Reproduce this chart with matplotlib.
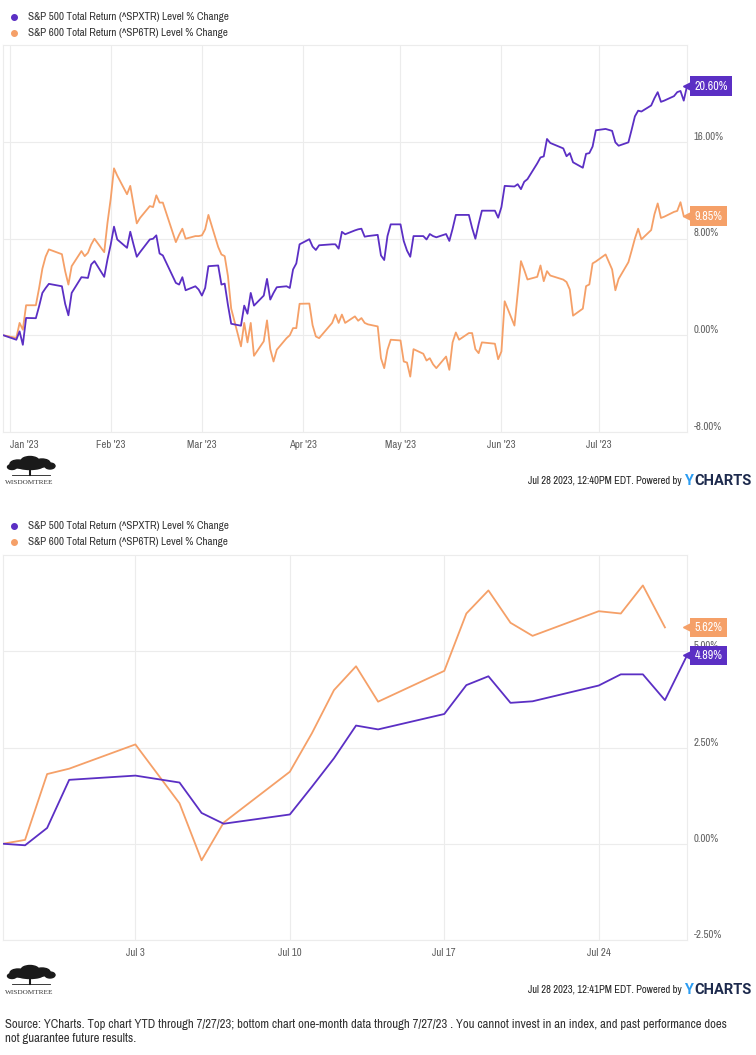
import matplotlib
matplotlib.use('Agg')
import matplotlib.pyplot as plt
import matplotlib.dates as mdates
from matplotlib import font_manager
from matplotlib.patches import Ellipse
from matplotlib.ticker import FixedLocator, FuncFormatter
import pandas as pd

PURPLE = '#5b2fc4'
ORANGE = '#f5a068'
GRID = '#ececec'
W, H = 756, 1055

# prefer a condensed face (the original uses one); fall back to Roboto, smaller
fonts = font_manager.fontManager.ttflist
narrow = sorted({f.name for f in fonts if 'Condensed' in f.name or 'Narrow' in f.name})
if narrow:
    plt.rcParams['font.family'] = [narrow[0], 'DejaVu Sans']
    SCALE = 1.0
else:
    plt.rcParams['font.family'] = ['Roboto', 'DejaVu Sans']
    SCALE = 0.86

# ---- data -------------------------------------------------------------
series_names = ['S&P 500 Total Return (^SPXTR) Level % Change',
                'S&P 600 Total Return (^SP6TR) Level % Change']
market_holidays = ['2023-01-02', '2023-01-16', '2023-02-20', '2023-04-07',
                   '2023-05-29', '2023-06-19', '2023-07-04']

# YTD, Dec 30 2022 .. Jul 28 2023 (one value per trading day)
spx_ytd = [
    0.00,
    # Jan
    -0.37, 0.32, -0.79, 1.43, 1.41, 2.40, 3.50, 3.90, 4.25, 4.05, 2.60, 1.65, 3.50, 4.80, 4.77, 4.74, 5.85, 6.13, 4.83, 6.27,
    # Feb
    7.50, 8.98, 7.92, 7.23, 8.56, 7.50, 6.49, 6.87, 7.92, 7.98, 8.26, 6.76, 6.60, 4.33, 4.19, 4.80, 3.72, 4.05, 3.78,
    # Mar
    3.28, 3.91, 5.71, 5.77, 4.19, 4.27, 2.50, 0.95, 0.79, 2.45, 1.78, 3.50, 2.45, 3.28, 4.66, 2.95, 3.50, 3.97, 4.05, 3.91, 5.44, 5.94, 7.52,
    # Apr
    7.94, 7.33, 7.05, 7.44, 7.52, 7.52, 7.16, 8.55, 8.35, 8.67, 8.76, 8.81, 8.15, 8.20, 8.30, 6.60, 6.22, 8.20, 9.17,
    # May
    9.17, 7.79, 7.00, 6.49, 8.20, 8.20, 7.92, 8.37, 8.20, 8.10, 8.37, 7.80, 8.80, 9.95, 9.95, 9.95, 8.87, 7.98, 9.20, 10.30, 10.30, 9.72,
    # Jun
    10.60, 12.35, 12.30, 12.49, 12.08, 12.69, 12.91, 14.21, 14.70, 14.79, 16.23, 15.90, 15.45, 14.80, 15.06, 14.30, 13.85, 15.00, 15.06, 15.60, 16.95,
    # Jul
    17.06, 16.90, 15.95, 15.67, 15.95, 17.00, 18.10, 18.57, 18.50, 19.00, 19.60, 20.10, 19.30, 19.40, 19.77, 20.10, 20.20, 19.40, 20.60,
]
# through Jul 27
sp6_ytd = [
    0.00,
    # Jan
    -0.22, 1.02, 0.46, 2.48, 2.48, 3.90, 5.50, 6.50, 7.10, 6.70, 5.30, 4.19, 5.71, 6.96, 6.54, 6.82, 7.50, 7.98, 6.87, 9.30,
    # Feb
    11.30, 13.80, 13.20, 11.66, 12.35, 10.80, 9.25, 9.70, 10.68, 10.60, 11.57, 10.97, 10.97, 7.70, 8.30, 8.81, 7.98, 8.20, 8.20,
    # Mar
    8.26, 8.76, 9.95, 7.30, 6.68, 6.54, 4.89, 2.20, -0.92, 1.02, -0.59, 1.02, -1.70, -0.50, 1.23, -1.15, -2.17, -1.20, -0.24, 0.00, 0.59, 0.59, 2.60,
    # Apr
    2.62, 0.83, -0.10, -0.24, 1.02, 1.71, 1.02, 1.71, 1.02, 1.56, 1.20, 1.42, 1.02, 0.90, 0.73, -1.90, -2.72, -1.20, -0.37,
    # May
    -0.43, -2.17, -2.26, -3.42, -1.15, -1.53, -2.09, -1.90, -2.40, -2.72, -1.76, -2.86, -0.59, 0.23, -0.37, 0.18, 0.18, -1.15, -1.48, -0.59, -0.70, -1.98,
    # Jun
    -1.34, 2.81, 0.80, 3.50, 6.13, 5.40, 4.61, 4.83, 5.77, 4.47, 5.30, 4.94, 4.60, 4.40, 3.78, 1.62, 2.20, 4.06, 4.20, 5.94, 6.10,
    # Jul
    6.68, 5.44, 3.72, 4.66, 6.04, 7.00, 8.00, 8.81, 7.93, 8.70, 10.00, 10.90, 9.70, 9.80, 10.20, 10.28, 11.00, 9.85,
]

# one month, Jun 27 .. Jul 28 2023
spx_1m = [0.00, -0.04, 0.41, 1.66, 1.77, 1.59, 0.80, 0.52, 0.76, 1.48, 2.22, 3.07,
          2.97, 3.37, 4.12, 4.35, 3.66, 3.70, 4.11, 4.40, 4.40, 3.73, 4.89]
sp6_1m = [0.00, 0.10, 1.81, 1.95, 2.58, 1.05, -0.43, 0.55, 1.87, 2.87, 3.99, 4.61,
          3.69, 4.49, 5.98, 6.58, 5.74, 5.40, 6.04, 5.98, 6.71, 5.62]

ytd_days = pd.bdate_range('2022-12-30', '2023-07-28', freq='C', holidays=market_holidays)
m1_days = pd.bdate_range('2023-06-27', '2023-07-28', freq='C', holidays=market_holidays)

top_yticks = [-8, 0, 8, 16]
bot_yticks = [-2.5, 0, 2.5, 5]
top_xticks = pd.to_datetime(['2023-01-01', '2023-02-01', '2023-03-01', '2023-04-01',
                             '2023-05-01', '2023-06-01', '2023-07-01'])
bot_xticks = pd.to_datetime(['2023-07-03', '2023-07-10', '2023-07-17', '2023-07-24'])


def fx(px):
    return px / W


def fy(py):
    return 1 - py / H


fig = plt.figure(figsize=(W / 100, H / 100), dpi=100)
fig.patch.set_facecolor('white')


def style_axes(ax, yticks):
    for s in ax.spines.values():
        s.set_color(GRID)
        s.set_linewidth(0.8)
    ax.yaxis.tick_right()
    ax.yaxis.set_major_locator(FixedLocator(yticks))
    ax.yaxis.set_major_formatter(FuncFormatter(lambda v, p: f'{v:.2f}%'))
    ax.grid(True, color=GRID, linewidth=0.8)
    ax.set_axisbelow(True)
    ax.tick_params(axis='both', length=0, labelsize=7.8 * SCALE, labelcolor='#606060')
    ax.tick_params(axis='y', pad=5)
    ax.tick_params(axis='x', pad=6)
    for lbl in ax.get_yticklabels():
        lbl.set_verticalalignment('bottom')


def end_label(ax, value, text, color):
    tr = ax.get_yaxis_transform()
    ax.plot([1.0], [value], marker='<', markersize=5.5, color=color,
            transform=tr, clip_on=False, zorder=5)
    ax.text(1.011, value, text, transform=tr, color='white', fontsize=8.6 * SCALE,
            fontweight='bold', va='center', ha='left', zorder=6,
            bbox=dict(boxstyle='square,pad=0.35', fc=color, ec='none'))


def legend(y0):
    for i, (name, col) in enumerate(zip(series_names, [PURPLE, ORANGE])):
        yy = y0 + 16 * i
        fig.add_artist(plt.Line2D([fx(14)], [fy(yy)], marker='o', markersize=4,
                                  color=col, transform=fig.transFigure))
        fig.text(fx(28), fy(yy), name, fontsize=8 * SCALE, color='#333333', va='center')


def footer(y_logo, stamp):
    # simple tree mark
    for cx, cy, w, h in [(18, 0, 16, 8), (30, -3, 18, 9), (42, -1, 16, 8),
                         (50, 2, 10, 6), (12, 3, 9, 5), (30, 2, 26, 7)]:
        fig.add_artist(Ellipse((fx(cx), fy(y_logo + cy)), fx(w), h / H,
                               color='#1a1a1a', transform=fig.transFigure))
    fig.add_artist(plt.Line2D([fx(30), fx(30)], [fy(y_logo + 4), fy(y_logo + 11)],
                              color='#1a1a1a', lw=1.5, transform=fig.transFigure))
    fig.add_artist(plt.Line2D([fx(12), fx(50)], [fy(y_logo + 11), fy(y_logo + 11)],
                              color='#1a1a1a', lw=0.6, transform=fig.transFigure))
    fig.text(fx(5), fy(y_logo + 19), 'WISDOMTREE', fontsize=5.2, color='#333333',
             family=['Liberation Serif', 'DejaVu Serif'], va='center')
    yy = fy(y_logo + 17)
    fig.text(fx(682), yy, stamp + ' Powered by', fontsize=7.6 * SCALE, color='#222222',
             ha='right', va='center')
    fig.text(fx(684), yy, 'Y', fontsize=10.5, color='#2b9cf2', fontweight='bold',
             ha='left', va='center', family=['Roboto', 'DejaVu Sans'])
    fig.text(fx(694), yy, 'CHARTS', fontsize=10.5, color='#1d2a4d', fontweight='bold',
             ha='left', va='center', family=['Roboto', 'DejaVu Sans'])


# ---- top chart (YTD) --------------------------------------------------
ax1 = fig.add_axes([fx(3.3), fy(432), fx(687) - fx(3.3), fy(45) - fy(432)])
ax1.plot(ytd_days, spx_ytd, color=PURPLE, lw=1.3, zorder=3)
ax1.plot(ytd_days[:len(sp6_ytd)], sp6_ytd, color=ORANGE, lw=1.3, zorder=2)
ax1.set_xlim(ytd_days[0], ytd_days[-1])
ax1.set_ylim(-8, 24)
style_axes(ax1, top_yticks)
ax1.xaxis.set_major_locator(FixedLocator(mdates.date2num(top_xticks)))
ax1.set_xticklabels([d.strftime("%b '%y") for d in top_xticks])
ax1.get_xticklabels()[0].set_horizontalalignment('left')
end_label(ax1, spx_ytd[-1], f'{spx_ytd[-1]:.2f}%', PURPLE)
end_label(ax1, sp6_ytd[-1], f'{sp6_ytd[-1]:.2f}%', ORANGE)
legend(17)
footer(464, 'Jul 28 2023, 12:40PM EDT.')

# ---- bottom chart (1 month) -------------------------------------------
ax2 = fig.add_axes([fx(3), fy(940), fx(687) - fx(3), fy(555) - fy(940)])
ax2.plot(m1_days, spx_1m, color=PURPLE, lw=1.3, zorder=3)
ax2.plot(m1_days[:len(sp6_1m)], sp6_1m, color=ORANGE, lw=1.3, zorder=2)
ax2.set_xlim(m1_days[0], m1_days[-1])
ax2.set_ylim(-2.5, 7.5)
style_axes(ax2, bot_yticks)
ax2.xaxis.set_major_locator(FixedLocator(mdates.date2num(bot_xticks)))
ax2.set_xticklabels([f'{d:%b} {d.day}' for d in bot_xticks])
end_label(ax2, sp6_1m[-1], f'{sp6_1m[-1]:.2f}%', ORANGE)
end_label(ax2, spx_1m[-1], f'{spx_1m[-1]:.2f}%', PURPLE)
legend(526)
footer(973, 'Jul 28 2023, 12:41PM EDT.')

fig.text(fx(5), fy(1024), 'Source: YCharts. Top chart YTD through 7/27/23; bottom chart one-month '
         'data through 7/27/23 . You cannot invest in an index, and past performance does',
         fontsize=9.2 * SCALE, color='#333333', va='center')
fig.text(fx(5), fy(1039), 'not guarantee future results.', fontsize=9.2 * SCALE,
         color='#333333', va='center')

fig.savefig('out.png', dpi=100, facecolor='white')
